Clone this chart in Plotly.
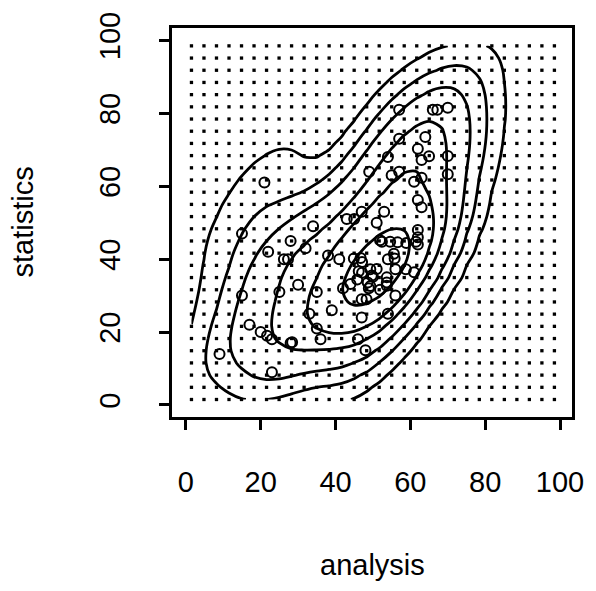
import numpy as np
import plotly.graph_objects as go

# Observed scores (analysis, statistics)
analysis = [21, 15, 15, 9, 23, 17, 20, 21.7, 23, 28, 28.4, 22, 26.2, 27.3, 28, 32, 34, 30, 25, 35,
            33, 35, 36, 38, 41, 39, 42, 46, 48, 47, 47, 48.3, 54, 56,
            43, 45, 47, 51, 53, 49, 54, 55, 57, 57, 57, 66, 67.2, 70, 64, 62, 65, 63, 70, 70,
            63, 61, 62, 63, 62, 62, 62,
            44.9, 46.7, 47.1, 46.2, 49.3, 51, 54, 55.6, 55.8, 56, 58.8, 61, 52.4, 54.6, 56.6,
            58.9, 61.5, 51.9, 45.8, 44, 48.6, 49.3, 48.9, 50, 49.7, 53.7, 53.7, 53.7, 51.9, 47.1]
statistics = [61, 47, 30, 14, 9, 22, 20, 19, 18, 17, 17.2, 42, 40, 40, 45, 43, 49, 33, 31, 31,
              25, 21, 18, 41, 40, 26, 32, 18, 15, 24, 29, 29, 25, 30,
              51, 51, 53, 50, 53, 64, 68, 63, 64, 73, 81, 81, 81, 81.5, 73.5, 70.3, 68.2, 67.2, 68.3, 63.3,
              62.3, 61.2, 56.2, 54.2, 44, 46, 48,
              40.2, 40.3, 39.2, 36.7, 37.2, 37.3, 40, 41.5, 40.2, 37.2, 37.2, 36.4, 44.8, 44.8, 44.6,
              44.4, 44.8, 45.2, 34.4, 33.2, 33.6, 32.6, 32, 35.2, 35.5, 35, 33.6, 32.7, 31.6, 36.3]

# Density evaluation grid (shown as dots)
grid_x = np.linspace(1.5, 98.5, 30)
grid_y = np.linspace(1.5, 98.5, 30)

# Kernel smoothing parameter (kernel covariance = h^2 * sample covariance)
# and contour levels (fraction of peak density)
h = 0.6
level_fractions = [0.025, 0.073, 0.147, 0.29, 0.44, 0.76]

x = np.asarray(analysis, float)
y = np.asarray(statistics, float)
Hi = np.linalg.inv(h * h * np.cov(np.vstack([x, y])))
GX, GY = np.meshgrid(grid_x, grid_y)
Z = np.zeros_like(GX)
for xi, yi in zip(x, y):
    dx, dy = GX - xi, GY - yi
    Z += np.exp(-0.5 * (Hi[0, 0] * dx * dx + 2 * Hi[0, 1] * dx * dy + Hi[1, 1] * dy * dy))
Z /= Z.max()

font = "Liberation Sans, Arial, Helvetica, sans-serif"

fig = go.Figure()
fig.add_trace(go.Scatter(
    x=GX.ravel(), y=GY.ravel(), mode="markers",
    marker=dict(size=3.3, color="black", symbol="square"),
    hoverinfo="skip", showlegend=False))
for lev in level_fractions:
    fig.add_trace(go.Contour(
        x=grid_x, y=grid_y, z=Z,
        contours=dict(start=lev, end=lev, size=lev, coloring="lines", showlabels=False),
        line=dict(width=2.8, smoothing=1),
        colorscale=[[0, "black"], [1, "black"]], showscale=False, hoverinfo="skip"))
fig.add_trace(go.Scatter(
    x=x, y=y, mode="markers",
    marker=dict(size=10, color="black", symbol="circle-open", line=dict(width=2)),
    showlegend=False))

ticks = [0, 20, 40, 60, 80, 100]
axis_common = dict(
    tickvals=ticks, ticktext=[str(t) for t in ticks],
    ticks="outside", ticklen=10, tickwidth=2.5, tickcolor="black",
    showline=True, linewidth=2.8, linecolor="black", mirror=True,
    showgrid=False, zeroline=False,
    tickfont=dict(family=font, size=29, color="black"),
)
fig.update_layout(
    width=596, height=591,
    margin=dict(l=172, r=18, t=20, b=174),
    paper_bgcolor="white", plot_bgcolor="white",
    showlegend=False,
    xaxis=dict(range=[-3.7, 103.2], ticklabelstandoff=27, **axis_common),
    yaxis=dict(range=[-3.3, 103.4], tickangle=-90, ticklabelstandoff=28, **axis_common),
    annotations=[
        dict(text="analysis", xref="paper", yref="paper", x=0.5, y=-0.38,
             xanchor="center", yanchor="middle", showarrow=False,
             font=dict(family=font, size=29, color="black")),
        dict(text="statistics", xref="paper", yref="paper", x=-0.375, y=0.5,
             xanchor="center", yanchor="middle", textangle=-90, showarrow=False,
             font=dict(family=font, size=29, color="black")),
    ],
)
fig.write_html("out.html")
